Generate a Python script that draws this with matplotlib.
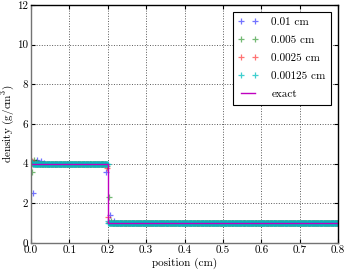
import numpy as np
import matplotlib
matplotlib.use('Agg')
import matplotlib.pyplot as plt

plt.rcParams['font.family'] = 'serif'
plt.rcParams['font.serif'] = ['cmr10']
plt.rcParams['mathtext.fontset'] = 'cm'
plt.rcParams['axes.formatter.use_mathtext'] = True
plt.rcParams['font.size'] = 8

# grid spacings (cm) and the density levels
spacings = [0.01, 0.005, 0.0025, 0.00125]
labels = ['0.01 cm', '0.005 cm', '0.0025 cm', '0.00125 cm']
colors = ['b', 'g', 'r', 'c']
rho_left = 4.0
rho_right = 1.0
x_shock = 0.2
x_end = 0.8

# values at the first few cells near the left wall and on each side of the shock
wall_vals = {
    0.01: [2.5, 4.2, 4.15, 4.05],
    0.005: [3.6, 4.2, 4.1, 4.05],
    0.0025: [3.9, 4.15, 4.1, 4.05],
    0.00125: [4.0, 4.1, 4.05],
}
shock_vals = {
    0.01: [3.6, 1.4, 1.1],
    0.005: [3.9, 2.3, 1.1],
    0.0025: [3.8, 1.3, 1.05],
    0.00125: [4.0, 1.1],
}

# exact solution
exact_x = [0.0, x_shock, x_shock, x_end]
exact_y = [rho_left, rho_left, rho_right, rho_right]


def series(dx):
    x = np.arange(dx / 2, x_end, dx)
    y = np.where(x < x_shock, rho_left, rho_right).astype(float)
    w = wall_vals[dx]
    y[:len(w)] = w
    i0 = np.searchsorted(x, x_shock) - 1
    for k, v in enumerate(shock_vals[dx]):
        y[i0 + k] = v
    return x, y


fig = plt.figure(figsize=(3.46, 2.74), dpi=100)
ax = fig.add_axes([0.0896, 0.113, 0.8874, 0.869])

alphas = [0.55, 0.55, 0.55, 0.75]
for dx, lab, c, a in zip(spacings, labels, colors, alphas):
    x, y = series(dx)
    ax.plot(x, y, '+', color=c, ms=4, mew=0.9, alpha=a, label=lab)
ax.plot(exact_x, exact_y, '-', color='m', lw=1, label='exact')

ax.set_xlim(0, 0.8)
ax.set_ylim(0, 12)
ax.set_xticks(np.arange(0, 0.81, 0.1))
ax.set_yticks(np.arange(0, 13, 2))
ax.set_xticklabels(['%.1f' % v for v in np.arange(0, 0.81, 0.1)])
ax.set_yticklabels(['%d' % v for v in np.arange(0, 13, 2)])
ax.tick_params(direction='in', top=True, right=True, length=3, pad=2)
ax.grid(True, linestyle=':', color='0.35', lw=0.7)
ax.set_xlabel('position (cm)', labelpad=2)
ax.set_ylabel(r'density (g/cm$^3$)', labelpad=1)
for s in ax.spines.values():
    s.set_linewidth(1)
ax.spines['left'].set_color('0.45')
ax.spines['bottom'].set_color('0.45')

leg = ax.legend(loc='upper right', numpoints=2, fancybox=False,
                framealpha=1, edgecolor='k', fontsize=8,
                borderaxespad=0.6, handlelength=1.8, handletextpad=1.2,
                labelspacing=0.75, borderpad=0.5)
leg.get_frame().set_linewidth(0.8)

fig.savefig('out.png', dpi=100)
